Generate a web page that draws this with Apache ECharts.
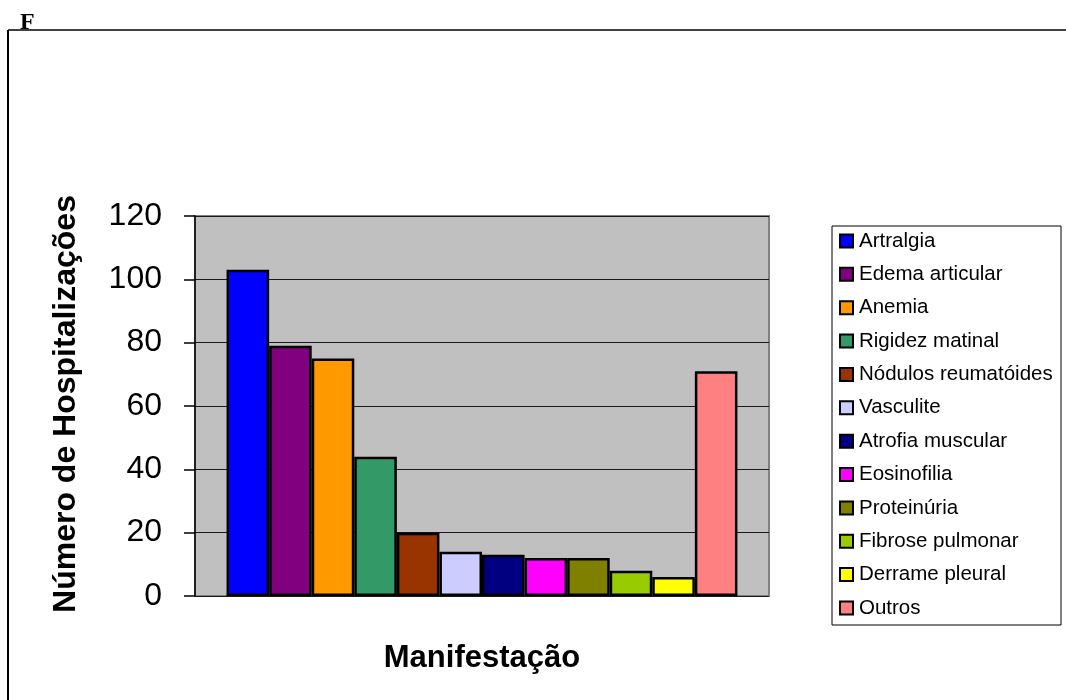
<!DOCTYPE html>
<html>
<head>
<meta charset="utf-8">
<script src="https://cdn.jsdelivr.net/npm/echarts@6/dist/echarts.min.js"></script>
<style>
html,body{margin:0;padding:0;background:#fff;}
#chart{width:1066px;height:700px;}
</style>
</head>
<body>
<div id="chart"></div>
<script>
const categories = ['Manifestação'];
const seriesNames = ['Artralgia','Edema articular','Anemia','Rigidez matinal','Nódulos reumatóides','Vasculite','Atrofia muscular','Eosinofilia','Proteinúria','Fibrose pulmonar','Derrame pleural','Outros'];
const seriesValues = [103, 79, 75, 44, 20, 14, 13, 12, 12, 8, 6, 71];
const seriesColors = ['#0000FF','#800080','#FF9900','#339966','#993300','#CCCCFF','#000080','#FF00FF','#808000','#99CC00','#FFFF00','#FF8080'];
const yTicks = [0, 20, 40, 60, 80, 100, 120];
const yTitle = 'Número de Hospitalizações';
const xTitle = 'Manifestação';
const panelLabel = 'F';

const chart = echarts.init(document.getElementById('chart'), null, {renderer:'canvas'});
const FONT = '"Liberation Sans", Arial, sans-serif';

const series = seriesNames.map((n, i) => ({
  name: n,
  type: 'bar',
  data: [seriesValues[i]],
  barGap: '0%',
  barCategoryGap: '11%',
  itemStyle: {color: seriesColors[i], borderColor: '#000', borderWidth: 2.5},
  emphasis: {disabled: true},
  silent: true
}));

chart.setOption({
  animation: false,
  backgroundColor: '#fff',
  grid: {
    left: 195, right: 297, top: 216, bottom: 104,
    show: true, backgroundColor: '#C0C0C0', borderColor: '#808080', borderWidth: 2
  },
  xAxis: {
    type: 'category', data: categories,
    axisLine: {show: false}, axisTick: {show: false}, axisLabel: {show: false}, splitLine: {show: false}
  },
  yAxis: {
    type: 'value', min: yTicks[0], max: yTicks[yTicks.length-1], interval: 20,
    axisLine: {show: true, lineStyle: {color: '#000', width: 1.5}},
    axisTick: {show: true, length: 11, lineStyle: {color: '#000', width: 1.5}},
    axisLabel: {color: '#000', fontSize: 32, fontFamily: FONT, margin: 33},
    splitLine: {show: true, lineStyle: {color: '#1a1a1a', width: 1}}
  },
  legend: {
    data: seriesNames,
    orient: 'vertical',
    left: 839, top: 230,
    padding: 0,
    itemGap: 11.36,
    itemWidth: 13, itemHeight: 13,
    icon: 'rect',
    selectedMode: false,
    itemStyle: {borderColor: '#000', borderWidth: 2},
    textStyle: {fontSize: 20.5, fontFamily: FONT, color: '#000', lineHeight: 22, padding: [0,0,0,1]}
  },
  graphic: [
    {type: 'line', shape: {x1: 8, y1: 30, x2: 1066, y2: 30}, style: {stroke: '#000', lineWidth: 1.5}},
    {type: 'line', shape: {x1: 8, y1: 30, x2: 8, y2: 700}, style: {stroke: '#000', lineWidth: 2}},
    {type: 'text', left: 20, top: 11, style: {text: panelLabel, font: 'bold 24px "Liberation Serif", "Times New Roman", serif', fill: '#000'}},
    {type: 'rect', shape: {x: 832, y: 226, width: 229, height: 399}, style: {fill: '#fff', stroke: '#000', lineWidth: 1}, z: -1},
    {type: 'text', x: 66, y: 404, rotation: Math.PI/2, style: {text: yTitle, font: 'bold 32px ' + FONT, fill: '#000', align: 'center', verticalAlign: 'middle'}},
    {type: 'text', x: 482, y: 658, style: {text: xTitle, font: 'bold 31px ' + FONT, fill: '#000', align: 'center', verticalAlign: 'middle'}}
  ],
  series: series
});
</script>
</body>
</html>
